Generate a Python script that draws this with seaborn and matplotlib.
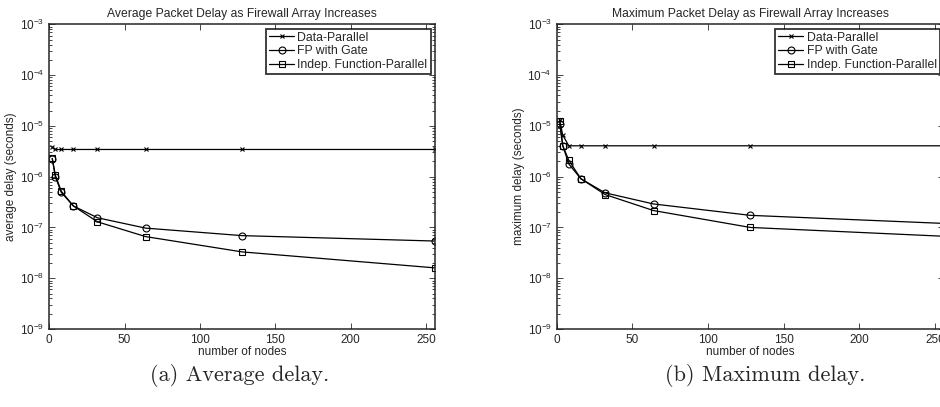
import seaborn as sns
import matplotlib.pyplot as plt
import pandas as pd
from matplotlib.ticker import LogLocator, NullFormatter

nodes = [2, 4, 8, 16, 32, 64, 128, 256]
series_names = ["Data-Parallel", "FP with Gate", "Indep. Function-Parallel"]

# average delay (seconds)
avg_data_parallel = [3.76e-6, 3.43e-6, 3.43e-6, 3.43e-6, 3.43e-6, 3.43e-6, 3.43e-6, 3.43e-6]
avg_fp_gate = [2.25e-6, 1.0e-6, 4.9e-7, 2.65e-7, 1.55e-7, 9.7e-8, 6.9e-8, 5.4e-8]
avg_indep_fp = [2.29e-6, 1.08e-6, 5.15e-7, 2.65e-7, 1.29e-7, 6.6e-8, 3.3e-8, 1.6e-8]

# maximum delay (seconds)
max_data_parallel = [1.3e-5, 6.6e-6, 4.05e-6, 4.05e-6, 4.05e-6, 4.05e-6, 4.05e-6, 4.05e-6]
max_fp_gate = [1.1e-5, 4.1e-6, 1.78e-6, 9.1e-7, 4.8e-7, 2.9e-7, 1.73e-7, 1.2e-7]
max_indep_fp = [1.27e-5, 4.1e-6, 2.1e-6, 9.1e-7, 4.45e-7, 2.15e-7, 1.0e-7, 6.7e-8]

titles = ["Average Packet Delay as Firewall Array Increases",
          "Maximum Packet Delay as Firewall Array Increases"]
ylabels = ["average delay (seconds)", "maximum delay (seconds)"]
captions = ["(a) Average delay.", "(b) Maximum delay."]

sns.set_style("ticks")
plt.rcParams['font.family'] = ['Liberation Sans', 'DejaVu Sans']
plt.rcParams['xtick.direction'] = 'in'
plt.rcParams['ytick.direction'] = 'in'
plt.rcParams['axes.linewidth'] = 1.1

markers = {"Data-Parallel": "x", "FP with Gate": "o", "Indep. Function-Parallel": "s"}
msizes = {"Data-Parallel": 3, "FP with Gate": 5, "Indep. Function-Parallel": 4.5}


def make_frame(a, b, c):
    rows = []
    for name, vals in zip(series_names, [a, b, c]):
        for n, v in zip(nodes, vals):
            rows.append({"nodes": n, "delay": v, "series": name})
    return pd.DataFrame(rows)


frames = [make_frame(avg_data_parallel, avg_fp_gate, avg_indep_fp),
          make_frame(max_data_parallel, max_fp_gate, max_indep_fp)]

fig = plt.figure(figsize=(9.4, 4.07), dpi=100)
axes = [fig.add_axes([0.0524, 0.1916, 0.4103, 0.7487]),
        fig.add_axes([0.5922, 0.1916, 0.4121, 0.7487])]

for i, ax in enumerate(axes):
    df = frames[i]
    for name in series_names:
        sub = df[df["series"] == name]
        sns.lineplot(data=sub, x="nodes", y="delay", ax=ax, color="black",
                     linewidth=0.9, marker=markers[name], markersize=msizes[name],
                     markerfacecolor="none", markeredgecolor="black",
                     markeredgewidth=0.8, label=name)
    ax.set_yscale("log")
    ax.set_ylim(1e-9, 1e-3)
    ax.set_xlim(0, 256)
    ax.set_xticks([0, 50, 100, 150, 200, 250])
    ax.yaxis.set_major_locator(LogLocator(base=10, numticks=10))
    ax.yaxis.set_minor_locator(LogLocator(base=10, subs=range(2, 10), numticks=20))
    ax.yaxis.set_minor_formatter(NullFormatter())
    ax.tick_params(which="both", top=True, right=True, labelsize=8.5, length=4, width=0.6)
    ax.tick_params(which="minor", length=2)
    ax.set_title(titles[i], fontsize=8.7, pad=5)
    ax.set_xlabel("number of nodes", fontsize=8.5, labelpad=0)
    ax.set_ylabel(ylabels[i], fontsize=8.5, labelpad=2)
    leg = ax.legend(loc="upper right", fontsize=8.8, frameon=True, fancybox=False,
                    handlelength=2.0, handletextpad=0.3, borderpad=0.25,
                    labelspacing=0.15, borderaxespad=0.35)
    leg.get_frame().set_edgecolor("black")
    leg.get_frame().set_linewidth(1.3)

fig.text(240 / 940, 0.078, captions[0], ha="center", va="center",
         fontsize=16, family=["cmr10", "DejaVu Serif"])
fig.text(765 / 940, 0.078, captions[1], ha="center", va="center",
         fontsize=16, family=["cmr10", "DejaVu Serif"])

fig.savefig("out.png", dpi=100)
